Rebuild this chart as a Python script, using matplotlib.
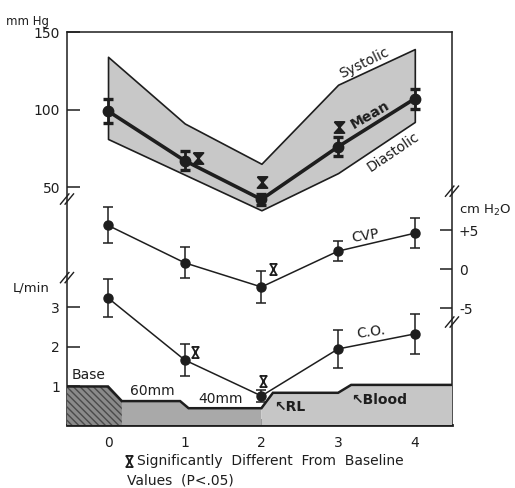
import matplotlib
matplotlib.use("Agg")
import matplotlib.pyplot as plt
import numpy as np
from matplotlib.path import Path
from matplotlib.transforms import ScaledTranslation

# ---------------- data ----------------
stages = [0, 1, 2, 3, 4]
systolic = [134, 91, 65, 116, 139]
diastolic = [81, 58, 35, 59, 92]
mean_bp = [99, 67, 42, 76, 107]
mean_err = [8, 6, 3.5, 6, 6.5]

cvp = [5.6, 0.8, -2.3, 2.3, 4.6]
cvp_err = [2.3, 2.0, 2.0, 1.3, 1.9]

co = [3.24, 1.67, 0.76, 1.95, 2.33]
co_err = [0.48, 0.41, 0.15, 0.49, 0.50]

# fluid-volume profile (in L/min axis units)
vol_x = [-0.535, 0.0, 0.18, 0.94, 1.05, 2.0, 2.15, 3.0, 3.17, 4.485]
vol_y = [1.0, 1.0, 0.63, 0.63, 0.45, 0.45, 0.84, 0.84, 1.04, 1.04]

sig_bp_idx = [1, 2, 3]
sig_cvp_idx = [2]
sig_co_idx = [1, 2]

xticks = [0, 1, 2, 3, 4]
bp_ticks = [50, 100, 150]
cvp_ticks = [5, 0, -5]
cvp_ticklabels = ['+5', '0', '-5']
co_ticks = [1, 2, 3]

# ---------------- figure ----------------
plt.rcParams['font.family'] = ['DejaVu Sans']
ink = '#1e1e1e'
W, H = 515, 488
fig = plt.figure(figsize=(W / 100, H / 100), dpi=100)
L, R, T, B = 67, 452, 32, 425
ax = fig.add_axes([L / W, (H - B) / H, (R - L) / W, (B - T) / H])
ax.set_xlim(-0.535, 4.485)
ax.set_ylim(-103.5, 150)
for s in ax.spines.values():
    s.set_color(ink)
    s.set_linewidth(1.1)
ax.spines['bottom'].set_linewidth(2.0)

ax_cvp = ax.twinx()
ax_cvp.set_ylim(-20, 30.4)
ax_co = ax.twinx()
ax_co.set_ylim(0.025, 9.97)
for a in (ax_cvp, ax_co):
    for s in a.spines.values():
        s.set_visible(False)
    a.patch.set_visible(False)

# ticks
ax.set_xticks(xticks)
ax.set_xticklabels([str(v) for v in xticks])
ax.tick_params(axis='x', direction='in', length=4, width=1.5, color=ink,
               labelsize=10, labelcolor=ink, pad=8)
ax.set_yticks(bp_ticks)
ax.set_yticklabels([str(v) for v in bp_ticks])
ax.tick_params(axis='y', direction='in', length=9, width=1.1, color=ink,
               labelsize=10, labelcolor=ink, pad=5)

ax_cvp.set_yticks(cvp_ticks)
ax_cvp.set_yticklabels(cvp_ticklabels)
ax_cvp.tick_params(axis='y', direction='in', length=9, width=1.1, color=ink,
                   labelsize=10, labelcolor=ink, pad=5)

ax_co.yaxis.tick_left()
ax_co.set_yticks(co_ticks)
ax_co.set_yticklabels([str(v) for v in co_ticks])
ax_co.tick_params(axis='y', direction='in', length=9, width=1.1, color=ink,
                  labelsize=10, labelcolor=ink, pad=5, right=False, labelright=False,
                  left=True, labelleft=True)

# ---------------- blood pressure band ----------------
ax.fill_between(stages, diastolic, systolic, facecolor='#c8c8c8',
                edgecolor=ink, linewidth=1.2, zorder=2)
ax.errorbar(stages, mean_bp, yerr=mean_err, color=ink, lw=2.6, marker='o',
            ms=7.5, capsize=3.5, capthick=2.4, elinewidth=2.0, zorder=4)

# ---------------- CVP ----------------
ax_cvp.errorbar(stages, cvp, yerr=cvp_err, color=ink, lw=1.1, marker='o',
                ms=6.5, capsize=3.5, capthick=1.1, elinewidth=1.1, zorder=4)

# ---------------- fluid volume + C.O. ----------------
vx = np.array(vol_x)
vy = np.array(vol_y)
ax_co.fill_between(vx, 0, vy, where=vx <= 0.2, interpolate=True,
                   facecolor='#8a8a8a', edgecolor='#4a4a4a', hatch='\\\\\\\\\\',
                   linewidth=0, zorder=1)
ax_co.fill_between(vx, 0, vy, where=(vx >= 0.18) & (vx <= 2.0), interpolate=True,
                   facecolor='#a9a9a9', linewidth=0, zorder=1)
ax_co.fill_between(vx, 0, vy, where=vx >= 2.0, interpolate=True,
                   facecolor='#c6c6c6', linewidth=0, zorder=1)
ax_co.plot(vx, vy, color=ink, lw=1.8, zorder=2, solid_joinstyle='miter')
ax_co.errorbar(stages, co, yerr=co_err, color=ink, lw=1.1, marker='o',
               ms=6.5, capsize=3.5, capthick=1.1, elinewidth=1.1, zorder=4)

# ---------------- significance markers ----------------
hourglass = Path([(-0.45, 0.5), (0.45, 0.5), (-0.45, -0.5), (0.45, -0.5), (-0.45, 0.5)])
xbar = Path([(-0.35, 0.5), (0.35, 0.5), (-0.35, -0.5), (0.35, -0.5),
             (-0.28, 0.5), (0.28, -0.5), (0.28, 0.5), (-0.28, -0.5)],
            [Path.MOVETO, Path.LINETO, Path.MOVETO, Path.LINETO,
             Path.MOVETO, Path.LINETO, Path.MOVETO, Path.LINETO])


def sig(a, xs, ys, idx, offs, marker, filled):
    for i, (dx, dy) in zip(idx, offs):
        tr = a.transData + ScaledTranslation(dx / 100, dy / 100, fig.dpi_scale_trans)
        a.plot([xs[i]], [ys[i]], marker=marker, ms=8,
               mfc=ink if filled else 'none', mec=ink, mew=1.3,
               transform=tr, clip_on=False, zorder=5, ls='none')


sig(ax, stages, mean_bp, sig_bp_idx, [(13, 3), (1, 17), (1, 20)], hourglass, True)
sig(ax_cvp, stages, cvp, sig_cvp_idx, [(12, 18)], xbar, False)
sig(ax_co, stages, co, sig_co_idx, [(10, 8), (2, 15)], xbar, False)

# ---------------- axis breaks ----------------
def brk(xf, yf):
    for d in (-0.006, 0.006):
        ax.plot([xf - 0.011 + d, xf + 0.011 + d], [yf - 0.013, yf + 0.013],
                transform=ax.transAxes, color=ink, lw=1.0, clip_on=False, zorder=6)


brk(0.0, 0.575)
brk(0.0, 0.375)
brk(1.0, 0.595)
brk(1.0, 0.262)

# ---------------- texts ----------------
fs = 10
fig.text(27 / W, 1 - 21 / H, 'mm Hg', fontsize=8.5, color=ink, ha='center', va='center')
fig.text(31 / W, 1 - 288 / H, 'L/min', fontsize=9.5, color=ink, ha='center', va='center')
fig.text(485 / W, 1 - 210 / H, 'cm H$_2$O', fontsize=9.5, color=ink, ha='center', va='center')

ax.text(3.34, 130, 'Systolic', rotation=26, fontsize=fs, color=ink, ha='center', va='center')
ax.text(3.42, 96.5, 'Mean', rotation=30, fontsize=fs, fontweight='bold', color=ink,
        ha='center', va='center', zorder=6)
ax.text(3.72, 72.5, 'Diastolic', rotation=34, fontsize=fs, color=ink, ha='center', va='center')
ax_cvp.text(3.35, 4.3, 'CVP', rotation=9, fontsize=fs, color=ink, ha='center', va='center')
ax_co.text(3.43, 2.38, 'C.O.', rotation=8, fontsize=fs, color=ink, ha='center', va='center')

ax_co.text(-0.48, 1.12, 'Base', fontsize=fs, color=ink, ha='left', va='bottom')
ax_co.text(0.58, 0.72, '60mm', fontsize=fs, color=ink, ha='center', va='bottom')
ax_co.text(1.47, 0.5, '40mm', fontsize=fs, color=ink, ha='center', va='bottom')
ax_co.text(2.16, 0.48, '\u2196RL', fontsize=fs, fontweight='bold', color=ink,
           ha='left', va='center')
ax_co.text(3.17, 0.67, '\u2196Blood', fontsize=fs, fontweight='bold', color=ink,
           ha='left', va='center')

fig.add_artist(plt.Line2D([129 / W], [1 - 461 / H], marker=xbar, ms=8, mfc='none',
                          mec=ink, mew=1.3, ls='none', transform=fig.transFigure))
fig.text(137 / W, 1 - 461 / H, 'Significantly  Different  From  Baseline', fontsize=fs,
         color=ink, ha='left', va='center')
fig.text(127 / W, 1 - 481 / H, 'Values  (P<.05)', fontsize=fs, color=ink,
         ha='left', va='center')

fig.savefig('out.png', dpi=100, facecolor='white')
